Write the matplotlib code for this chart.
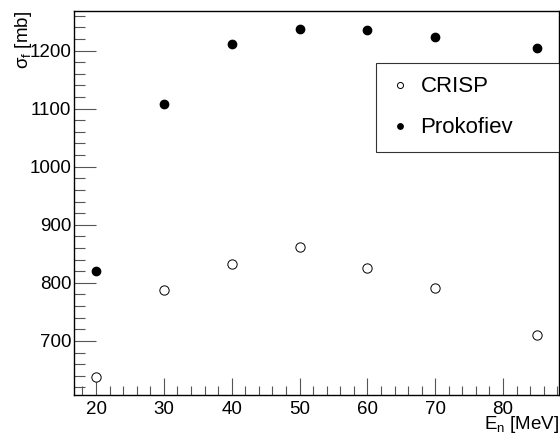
import matplotlib
matplotlib.use("Agg")
import matplotlib.pyplot as plt
from matplotlib.ticker import MultipleLocator

plt.rcParams['font.family'] = ['Liberation Sans', 'DejaVu Sans']
plt.rcParams['mathtext.fontset'] = 'custom'
plt.rcParams['mathtext.rm'] = 'Liberation Sans'
plt.rcParams['mathtext.it'] = 'Liberation Sans'

# energies in MeV
energy = [20, 30, 40, 50, 60, 70, 85]
# fission cross sections in mb
crisp = [638, 788, 832, 862, 826, 791, 710]
prokofiev = [820, 1108, 1212, 1237, 1236, 1224, 1205]

fig = plt.figure(figsize=(5.6, 4.37), dpi=100)
ax = fig.add_axes([74/560, 1 - 395/437, (559 - 74)/560, (395 - 11)/437])

ax.plot(energy, crisp, linestyle='none', marker='o', markersize=6.7,
        markerfacecolor='white', markeredgecolor='black', markeredgewidth=0.7,
        label='CRISP')
ax.plot(energy, prokofiev, linestyle='none', marker='o', markersize=6.0,
        color='black', label='Prokofiev')

ax.set_xlim(16.75, 88.25)
ax.set_ylim(607, 1268)

ax.xaxis.set_major_locator(MultipleLocator(10))
ax.xaxis.set_minor_locator(MultipleLocator(2))
ax.yaxis.set_major_locator(MultipleLocator(100))
ax.yaxis.set_minor_locator(MultipleLocator(20))
ax.tick_params(which='both', direction='in', top=False, right=False,
               labelsize=13.5, width=0.8, color='#555555')
ax.tick_params(axis='y', which='major', length=16, pad=2)
ax.tick_params(axis='y', which='minor', length=8)
ax.tick_params(axis='x', which='major', length=12, pad=4)
ax.tick_params(axis='x', which='minor', length=6.5)
for s in ax.spines.values():
    s.set_linewidth(1.0)

ax.set_xlabel(r'E$_{\rm n}$ [MeV]', fontsize=13.5, loc='right', labelpad=-2.5)
ax.set_ylabel(r'$\sigma_{\rm f}$ [mb]', fontsize=13.5, loc='top', labelpad=-3)

# legend box spans x 376..559, y 63..152 px
leg = ax.legend(loc='upper left',
                bbox_to_anchor=(376/560, 1 - 152/437, 183/560, 89/437),
                bbox_transform=fig.transFigure, mode='expand', fontsize=16,
                frameon=True, fancybox=False, edgecolor='black',
                markerscale=0.65, handlelength=1.0, handletextpad=0.4,
                borderpad=0.6, labelspacing=0.9, borderaxespad=0)
leg.get_frame().set_linewidth(0.8)

fig.savefig('out.png', dpi=100)
